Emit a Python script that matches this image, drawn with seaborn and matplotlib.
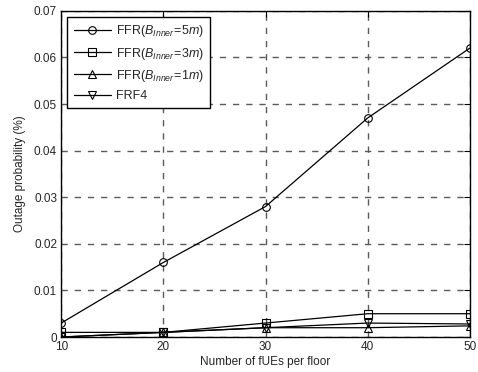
import matplotlib
matplotlib.use("Agg")
import matplotlib.pyplot as plt
import seaborn as sns
import pandas as pd

fues = [10, 20, 30, 40, 50]
ffr_5m = [0.003, 0.016, 0.028, 0.047, 0.062]
ffr_3m = [0.001, 0.001, 0.003, 0.005, 0.005]
ffr_1m = [0.0, 0.001, 0.002, 0.002, 0.0024]
frf4 = [0.0, 0.001, 0.002, 0.003, 0.0028]
labels = [r"FFR($B_{Inner}\!=\!5m)$", r"FFR($B_{Inner}\!=\!3m)$",
          r"FFR($B_{Inner}\!=\!1m)$", "FRF4"]
markers = ["o", "s", "^", "v"]
xticks = [10, 20, 30, 40, 50]
yticks = [0, 0.01, 0.02, 0.03, 0.04, 0.05, 0.06, 0.07]
ytick_labels = ["0", "0.01", "0.02", "0.03", "0.04", "0.05", "0.06", "0.07"]

sns.set_theme(style="white")
plt.rcParams["font.family"] = ["Liberation Sans", "DejaVu Sans"]
plt.rcParams["mathtext.fontset"] = "custom"
plt.rcParams["mathtext.rm"] = "Liberation Sans"
plt.rcParams["mathtext.it"] = "Liberation Sans:italic"

fig = plt.figure(figsize=(4.78, 3.72), dpi=100)
ax = fig.add_axes([0.128, 0.094, 0.855, 0.877])

series = [ffr_5m, ffr_3m, ffr_1m, frf4]
for vals, lab, mk in zip(series, labels, markers):
    df = pd.DataFrame({"x": fues, "y": vals})
    sns.lineplot(data=df, x="x", y="y", ax=ax, color="black", linewidth=0.9,
                 marker=mk, markersize=5.5, markerfacecolor="none",
                 markeredgecolor="black", markeredgewidth=0.8, label=lab)

ax.set_xlim(10, 50)
ax.set_ylim(0, 0.07)
ax.set_xticks(xticks)
ax.set_yticks(yticks)
ax.set_yticklabels(ytick_labels)
ax.grid(True, linestyle=(0, (4.5, 5)), color="#5a5a5a", linewidth=1.0)
ax.set_xlabel("Number of fUEs per floor", fontsize=8.5, labelpad=2)
ax.set_ylabel("Outage probability (%)", fontsize=8.5, labelpad=6)
ax.tick_params(axis="both", direction="in", length=4, width=0.8, labelsize=8.5,
               top=True, right=True, color="black", pad=3)
for s in ax.spines.values():
    s.set_color("black")
    s.set_linewidth(1.0)

leg = ax.legend(loc="upper left", fontsize=9, frameon=True, fancybox=False,
                edgecolor="black", handlelength=3.0, borderpad=0.5,
                labelspacing=0.5, borderaxespad=0.5, handletextpad=0.4)
leg.get_frame().set_linewidth(1.0)
leg.get_frame().set_alpha(1)

fig.savefig("out.png", dpi=100)
